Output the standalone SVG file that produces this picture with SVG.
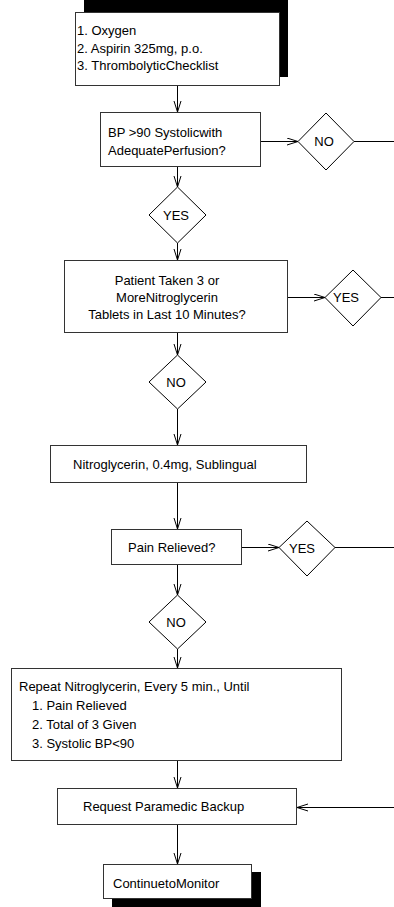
<svg xmlns="http://www.w3.org/2000/svg" width="394" height="907" viewBox="0 0 394 907">
<style>
.box{fill:#fff;stroke:#333;stroke-width:1}
.dia{fill:#fff;stroke:#000;stroke-width:1}
.sh{fill:#000}
text{font-family:"Liberation Sans",Arial,sans-serif;font-size:13px;fill:#000}
.c{text-anchor:middle}
.ln{stroke:#000;stroke-width:1;fill:none}
</style>
<defs>
<marker id="ah" markerUnits="userSpaceOnUse" markerWidth="12" markerHeight="9" refX="11" refY="4" orient="auto">
<path d="M0,0.5 L11,4 L0,7.5" fill="none" stroke="#000" stroke-width="1"/>
</marker>
</defs>
<g id="connectors">
<line class="ln" x1="177.5" y1="86" x2="177.5" y2="112" marker-end="url(#ah)"/>
<line class="ln" x1="177.5" y1="167" x2="177.5" y2="187" marker-end="url(#ah)"/>
<line class="ln" x1="177.5" y1="243" x2="177.5" y2="260" marker-end="url(#ah)"/>
<line class="ln" x1="177.5" y1="333" x2="177.5" y2="355" marker-end="url(#ah)"/>
<line class="ln" x1="177.5" y1="409" x2="177.5" y2="445" marker-end="url(#ah)"/>
<line class="ln" x1="177.5" y1="483" x2="177.5" y2="529" marker-end="url(#ah)"/>
<line class="ln" x1="177.5" y1="565" x2="177.5" y2="595" marker-end="url(#ah)"/>
<line class="ln" x1="177.5" y1="649" x2="177.5" y2="668" marker-end="url(#ah)"/>
<line class="ln" x1="177.5" y1="761" x2="177.5" y2="788" marker-end="url(#ah)"/>
<line class="ln" x1="177.5" y1="825" x2="177.5" y2="864" marker-end="url(#ah)"/>
<line class="ln" x1="261" y1="141.5" x2="298" y2="141.5" marker-end="url(#ah)"/>
<line class="ln" x1="354" y1="141.5" x2="394" y2="141.5"/>
<line class="ln" x1="288" y1="297.5" x2="325" y2="297.5" marker-end="url(#ah)"/>
<line class="ln" x1="381" y1="297.5" x2="394" y2="297.5"/>
<line class="ln" x1="242" y1="547.5" x2="279" y2="547.5" marker-end="url(#ah)"/>
<line class="ln" x1="335" y1="547.5" x2="394" y2="547.5"/>
<line class="ln" x1="394" y1="807.5" x2="297" y2="807.5" marker-end="url(#ah)"/>
</g>
<g id="n1">
<rect class="sh" x="84" y="-10" width="204" height="87"/>
<rect class="box" x="75.5" y="12.5" width="204" height="73"/>
<text x="77" y="35">1. Oxygen</text>
<text x="77" y="53">2. Aspirin 325mg, p.o.</text>
<text x="77" y="70">3. ThrombolyticChecklist</text>
</g>
<g id="n2">
<rect class="box" x="100.5" y="112.5" width="160" height="54"/>
<text x="108" y="137">BP &gt;90 Systolicwith</text>
<text x="108" y="155">AdequatePerfusion?</text>
</g>
<g id="d1">
<polygon class="dia" points="326,113 354,141.5 326,170 298,141.5"/>
<text class="c" x="324" y="146">NO</text>
</g>
<g id="d2">
<polygon class="dia" points="177.5,187 206,215 177.5,243 149,215"/>
<text class="c" x="176" y="220">YES</text>
</g>
<g id="n3">
<rect class="box" x="64.5" y="260.5" width="223" height="72"/>
<text class="c" x="167" y="285">Patient Taken 3 or</text>
<text class="c" x="167" y="302">MoreNitroglycerin</text>
<text class="c" x="167" y="319">Tablets in Last 10 Minutes?</text>
</g>
<g id="d3">
<polygon class="dia" points="353,270 381,297.5 353,326 325,297.5"/>
<text class="c" x="346" y="302">YES</text>
</g>
<g id="d4">
<polygon class="dia" points="177.5,355 206,382 177.5,409 149,382"/>
<text class="c" x="176" y="387">NO</text>
</g>
<g id="n4">
<rect class="box" x="50.5" y="445.5" width="256" height="37"/>
<text x="73" y="469">Nitroglycerin, 0.4mg, Sublingual</text>
</g>
<g id="n5">
<rect class="box" x="111.5" y="529.5" width="130" height="35"/>
<text x="128" y="552">Pain Relieved?</text>
</g>
<g id="d5">
<polygon class="dia" points="307,521 335,547.5 307,576 279,547.5"/>
<text class="c" x="302" y="553">YES</text>
</g>
<g id="d6">
<polygon class="dia" points="177.5,595 206,622 177.5,649 149,622"/>
<text class="c" x="176" y="627">NO</text>
</g>
<g id="n6">
<rect class="box" x="11.5" y="668.5" width="330" height="92"/>
<text x="19" y="691">Repeat Nitroglycerin, Every 5 min., Until</text>
<text x="32" y="710">1. Pain Relieved</text>
<text x="32" y="729">2. Total of 3 Given</text>
<text x="32" y="748">3. Systolic BP&lt;90</text>
</g>
<g id="n7">
<rect class="box" x="57.5" y="788.5" width="239" height="36"/>
<text x="83" y="811">Request Paramedic Backup</text>
</g>
<g id="n8">
<rect class="sh" x="112" y="872" width="149" height="40"/>
<rect class="box" x="103.5" y="864.5" width="148" height="34"/>
<text x="113" y="888">ContinuetoMonitor</text>
</g>
</svg>
